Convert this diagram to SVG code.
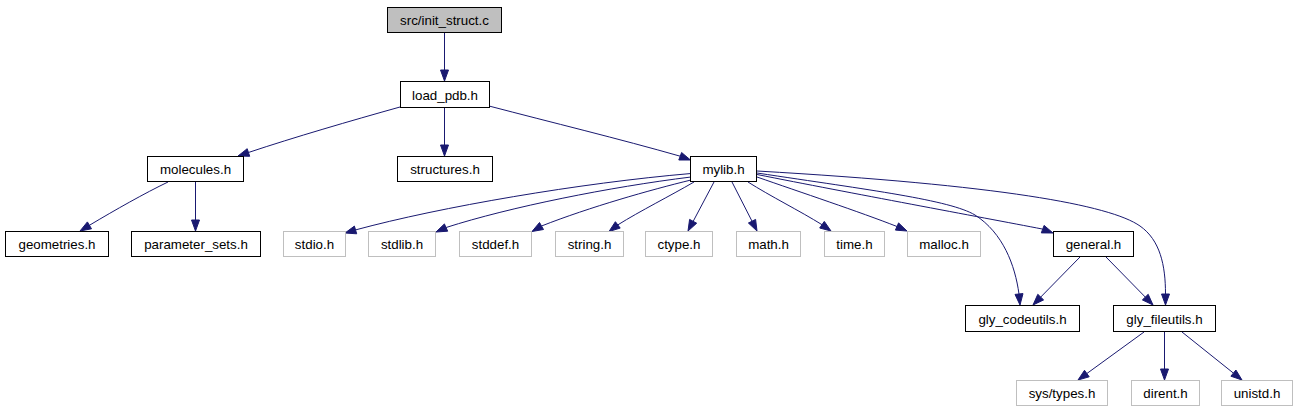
<svg xmlns="http://www.w3.org/2000/svg" width="1296" height="411" viewBox="0 0 1296 411">
<style>
.n rect{fill:#ffffff;stroke:#000000;stroke-width:1}
.n.g rect{stroke:#bfbfbf}
.n.root rect{fill:#bfbfbf}
.n text{font-family:"Liberation Sans",Arial,sans-serif;font-size:13.33px;fill:#000000;text-anchor:middle}
#edges path{fill:none;stroke:#191970;stroke-width:1}
#edges polygon{fill:#191970;stroke:#191970;stroke-width:1}
</style>
<rect width="1296" height="411" fill="#ffffff"/>
<g id="edges">
<path d="M444.5,32.5 L444.5,70"/><polygon points="444.5,81 448.5,70 440.5,70"/>
<path d="M444.5,107.5 L444.5,145"/><polygon points="444.5,156 448.5,145 440.5,145"/>
<path d="M400,107 C350,121 295,137 248.4,152.5"/><polygon points="238,156 247.2,148.7 249.7,156.3"/>
<path d="M489,106 C550,122 620,139 680.2,156.2"/><polygon points="690.5,160 678.8,160 681.6,152.5"/>
<path d="M195.5,181.5 L195.5,220"/><polygon points="195.5,231 199.5,220 191.5,220"/>
<path d="M168,182 C145,193 115,210 89.4,225.3"/><polygon points="80,231 87.4,221.9 91.5,228.8"/>
<path d="M691,173.5 C580,183 440,207 355.6,229.9"/><polygon points="345,233 354.4,226.1 356.7,233.8"/>
<path d="M691,177 C610,187 510,207 446.1,227.5"/><polygon points="436,232 444.4,223.9 447.7,231.2"/>
<path d="M691,180 C650,190 590,207 541.5,226"/><polygon points="532,231.5 539.5,222.5 543.5,229.5"/>
<path d="M694,182 C670,196 640,211 617.8,224.9"/><polygon points="609,231.5 615.4,221.7 620.2,228.1"/>
<path d="M714,182 L693.2,221.3"/><polygon points="688,231 689.6,219.4 696.7,223.2"/>
<path d="M732,182 L752,221.2"/><polygon points="757,231 748.4,223 755.6,219.4"/>
<path d="M748,182 C770,196 800,211 822,224.7"/><polygon points="831,231 819.7,228 824.3,221.4"/>
<path d="M757,177 C800,192 860,212 897,226.5"/><polygon points="907,231 895.4,230.1 898.6,222.9"/>
<path d="M757,174.5 C850,193 980,217 1042.7,229.1"/><polygon points="1053,233 1041.3,232.9 1044.1,225.4"/>
<path d="M757,173 C870,190 950,200 975,215 C1003,233 1015,265 1019,294"/><polygon points="1020,305 1015,294.4 1023,293.6"/>
<path d="M757,171 C1000,185 1110,205 1140,226 C1160,240 1165.5,265 1165.5,294"/><polygon points="1165.5,305 1161.5,294 1169.5,294"/>
<path d="M1080,257 L1040.7,297.1"/><polygon points="1033,305 1037.8,294.3 1043.6,299.9"/>
<path d="M1106,257 L1145.3,297.1"/><polygon points="1153,305 1142.4,299.9 1148.2,294.3"/>
<path d="M1144,332 L1086.9,373.5"/><polygon points="1078,380 1084.5,370.3 1089.2,376.8"/>
<path d="M1164.5,332 L1164.5,369"/><polygon points="1164.5,380 1168.5,369 1160.5,369"/>
<path d="M1182,332 L1233.4,373.1"/><polygon points="1242,380 1230.9,376.2 1235.9,370"/>
</g>
<g id="node_init_struct" class="n root"><rect x="387.5" y="7.5" width="114" height="25"/><text x="444.5" y="25">src/init_struct.c</text></g>
<g id="node_load_pdb" class="n"><rect x="400.5" y="81.5" width="89" height="26"/><text x="445" y="99.5">load_pdb.h</text></g>
<g id="node_molecules" class="n"><rect x="147.5" y="156.5" width="96" height="25"/><text x="195.5" y="174">molecules.h</text></g>
<g id="node_structures" class="n"><rect x="397.5" y="156.5" width="95" height="25"/><text x="445" y="174">structures.h</text></g>
<g id="node_mylib" class="n"><rect x="690.5" y="156.5" width="66" height="25"/><text x="723.5" y="174">mylib.h</text></g>
<g id="node_geometries" class="n"><rect x="5.5" y="231.5" width="103" height="25"/><text x="57" y="249">geometries.h</text></g>
<g id="node_parameter_sets" class="n"><rect x="131.5" y="231.5" width="129" height="25"/><text x="196" y="249">parameter_sets.h</text></g>
<g id="node_stdio" class="n g"><rect x="283.5" y="231.5" width="62" height="25"/><text x="314.5" y="249">stdio.h</text></g>
<g id="node_stdlib" class="n g"><rect x="368.5" y="231.5" width="67" height="25"/><text x="402" y="249">stdlib.h</text></g>
<g id="node_stddef" class="n g"><rect x="459.5" y="231.5" width="72" height="25"/><text x="495.5" y="249">stddef.h</text></g>
<g id="node_string" class="n g"><rect x="555.5" y="231.5" width="68" height="25"/><text x="589.5" y="249">string.h</text></g>
<g id="node_ctype" class="n g"><rect x="645.5" y="231.5" width="67" height="25"/><text x="679" y="249">ctype.h</text></g>
<g id="node_math" class="n g"><rect x="736.5" y="231.5" width="64" height="25"/><text x="768.5" y="249">math.h</text></g>
<g id="node_time" class="n g"><rect x="824.5" y="231.5" width="60" height="25"/><text x="854.5" y="249">time.h</text></g>
<g id="node_malloc" class="n g"><rect x="907.5" y="231.5" width="73" height="25"/><text x="944" y="249">malloc.h</text></g>
<g id="node_general" class="n"><rect x="1053.5" y="231.5" width="80" height="25"/><text x="1093.5" y="249">general.h</text></g>
<g id="node_gly_codeutils" class="n"><rect x="965.5" y="305.5" width="114" height="26"/><text x="1022.5" y="323.5">gly_codeutils.h</text></g>
<g id="node_gly_fileutils" class="n"><rect x="1113.5" y="305.5" width="102" height="26"/><text x="1164.5" y="323.5">gly_fileutils.h</text></g>
<g id="node_sys_types" class="n g"><rect x="1016.5" y="380.5" width="91" height="25"/><text x="1062" y="398">sys/types.h</text></g>
<g id="node_dirent" class="n g"><rect x="1131.5" y="380.5" width="68" height="25"/><text x="1165.5" y="398">dirent.h</text></g>
<g id="node_unistd" class="n g"><rect x="1221.5" y="380.5" width="71" height="25"/><text x="1257" y="398">unistd.h</text></g>
</svg>
